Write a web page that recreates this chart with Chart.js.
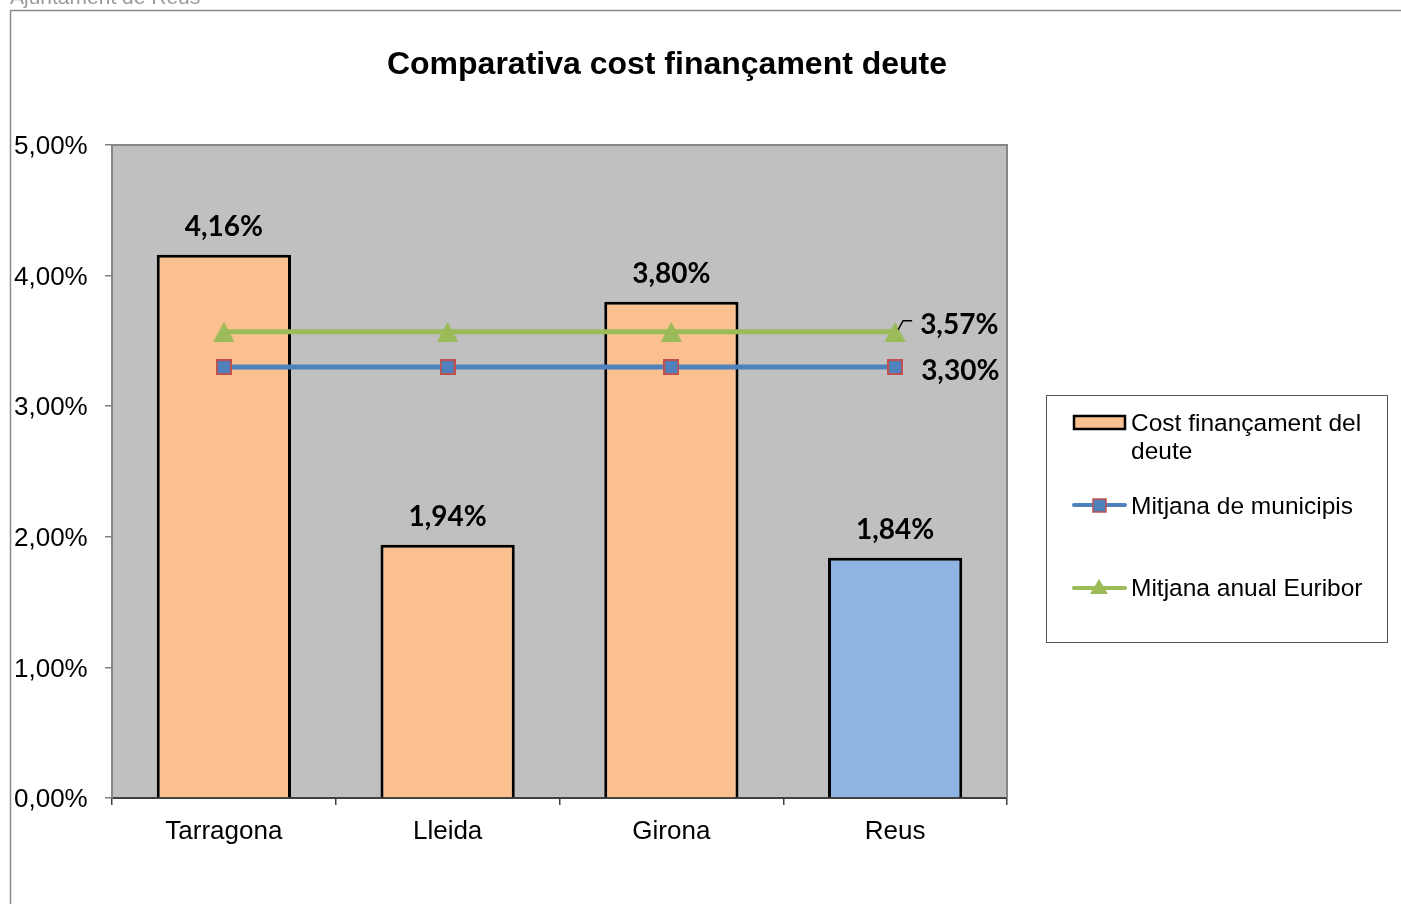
<!DOCTYPE html>
<html>
<head>
<meta charset="utf-8">
<script src="https://cdn.jsdelivr.net/npm/chart.js@4.4.1/dist/chart.umd.min.js"></script>
<style>
html,body{margin:0;padding:0;background:#fff;overflow:hidden;}
canvas{display:block;}
</style>
</head>
<body>
<canvas id="c" width="1401" height="904"></canvas>
<script>
const categories = ['Tarragona', 'Lleida', 'Girona', 'Reus'];
const costValues = [4.16, 1.94, 3.80, 1.84];
const municipisValues = [3.30, 3.30, 3.30, 3.30];
const euriborValues = [3.57, 3.57, 3.57, 3.57];
const yTicks = [0, 1, 2, 3, 4, 5];
const seriesNames = ['Cost finançament del deute', 'Mitjana de municipis', 'Mitjana anual Euribor'];
const titleText = 'Comparativa cost finançament deute';
const headerText = 'Ajuntament de Reus';

const SANS = '"Liberation Sans", Arial, sans-serif';
const LABEL = 'Lato, "Open Sans", sans-serif';
const fmt = v => v.toFixed(2).replace('.', ',') + '%';

const barColors = ['#FAC090', '#FAC090', '#FAC090', '#8DB4E2'];
const BLUE = '#4F81BD', RED = '#C0504D', GREEN = '#9BBB59';

function squareMarker() {
  const c = document.createElement('canvas');
  c.width = 16; c.height = 16;
  const x = c.getContext('2d');
  x.fillStyle = BLUE; x.fillRect(1, 1, 14, 14);
  x.strokeStyle = RED; x.lineWidth = 2; x.strokeRect(1, 1, 14, 14);
  return c;
}
function triMarker() {
  const c = document.createElement('canvas');
  c.width = 21; c.height = 20;
  const x = c.getContext('2d');
  x.fillStyle = GREEN;
  x.beginPath(); x.moveTo(10.5, 0); x.lineTo(21, 20); x.lineTo(0, 20); x.closePath(); x.fill();
  return c;
}
const sqImg = squareMarker();
const triImg = triMarker();

const decor = {
  id: 'decor',
  beforeDraw(chart) {
    const ctx = chart.ctx, a = chart.chartArea;
    ctx.save();
    ctx.fillStyle = '#fff';
    ctx.fillRect(0, 0, chart.width, chart.height);
    ctx.strokeStyle = '#8a8a8a';
    ctx.lineWidth = 1.5;
    ctx.strokeRect(10.5, 10.5, 1600, 1200);
    ctx.fillStyle = '#9a9a9a';
    ctx.font = '21px ' + SANS;
    ctx.textBaseline = 'alphabetic';
    ctx.textAlign = 'left';
    ctx.fillText(headerText, 10, 4);
    ctx.fillStyle = '#000';
    ctx.font = 'bold 32px ' + SANS;
    ctx.textAlign = 'center';
    ctx.textBaseline = 'middle';
    ctx.fillText(titleText, 667, 65);
    ctx.fillStyle = '#C0C0C0';
    ctx.fillRect(a.left, a.top, a.right - a.left, a.bottom - a.top);
    ctx.restore();
  },
  afterDatasetsDraw(chart) {
    const ctx = chart.ctx, a = chart.chartArea;
    ctx.save();
    ctx.strokeStyle = '#868686';
    ctx.lineWidth = 2;
    ctx.beginPath();
    ctx.moveTo(a.left, a.bottom);
    ctx.lineTo(a.left, a.top);
    ctx.lineTo(a.right, a.top);
    ctx.lineTo(a.right, a.bottom);
    ctx.stroke();
    ctx.fillStyle = '#000';
    ctx.font = 'bold 28px ' + LABEL;
    ctx.textAlign = 'center';
    ctx.textBaseline = 'middle';
    const m0 = chart.getDatasetMeta(0);
    m0.data.forEach((el, i) => {
      ctx.fillText(fmt(costValues[i]), el.x, el.y - 28);
    });
    const m1 = chart.getDatasetMeta(1);
    const m2 = chart.getDatasetMeta(2);
    const p1 = m1.data[m1.data.length - 1];
    const p2 = m2.data[m2.data.length - 1];
    ctx.textAlign = 'left';
    ctx.fillText(fmt(municipisValues[municipisValues.length - 1]), p1.x + 26, p1.y + 4);
    ctx.fillText(fmt(euriborValues[euriborValues.length - 1]), p2.x + 25, p2.y - 7);
    ctx.strokeStyle = '#000';
    ctx.lineWidth = 1.5;
    ctx.beginPath();
    ctx.moveTo(p2.x + 3, p2.y - 2);
    ctx.lineTo(p2.x + 8, p2.y - 11);
    ctx.lineTo(p2.x + 17, p2.y - 11);
    ctx.stroke();
    ctx.restore();
  },
  afterDraw(chart) {
    const ctx = chart.ctx;
    const ds = chart.data.datasets;
    ctx.save();
    ctx.fillStyle = '#fff';
    ctx.fillRect(1046.5, 395.5, 341, 247);
    ctx.strokeStyle = '#555';
    ctx.lineWidth = 1;
    ctx.strokeRect(1046.5, 395.5, 341, 247);
    ctx.font = '24.5px ' + SANS;
    ctx.textAlign = 'left';
    ctx.textBaseline = 'middle';
    ctx.fillStyle = '#FAC090';
    ctx.fillRect(1074, 416, 51, 13);
    ctx.strokeStyle = '#000';
    ctx.lineWidth = 2.5;
    ctx.strokeRect(1074, 416, 51, 13);
    ctx.fillStyle = '#000';
    ctx.fillText('Cost finançament del', 1131, 424);
    ctx.fillText('deute', 1131, 452);
    ctx.strokeStyle = ds[1].borderColor;
    ctx.lineWidth = 4;
    ctx.lineCap = 'round';
    ctx.beginPath(); ctx.moveTo(1074, 505); ctx.lineTo(1125, 505); ctx.stroke();
    ctx.fillStyle = BLUE;
    ctx.fillRect(1093, 499, 13, 13);
    ctx.strokeStyle = RED;
    ctx.lineWidth = 1.5;
    ctx.strokeRect(1093, 499, 13, 13);
    ctx.fillStyle = '#000';
    ctx.fillText(ds[1].label, 1131, 507);
    ctx.strokeStyle = ds[2].borderColor;
    ctx.lineWidth = 4;
    ctx.beginPath(); ctx.moveTo(1074, 588); ctx.lineTo(1125, 588); ctx.stroke();
    ctx.fillStyle = GREEN;
    ctx.beginPath();
    ctx.moveTo(1099, 579); ctx.lineTo(1108, 594); ctx.lineTo(1090, 594); ctx.closePath(); ctx.fill();
    ctx.fillStyle = '#000';
    ctx.fillText(ds[2].label, 1131, 589);
    ctx.restore();
  }
};

new Chart(document.getElementById('c'), {
  data: {
    labels: categories,
    datasets: [
      {
        type: 'bar', label: seriesNames[0], data: costValues,
        backgroundColor: barColors, borderColor: '#000', borderWidth: 3,
        categoryPercentage: 1, barPercentage: 0.6, order: 3
      },
      {
        type: 'line', label: seriesNames[1], data: municipisValues,
        borderColor: BLUE, borderWidth: 5,
        pointStyle: sqImg, pointRadius: 8, order: 2
      },
      {
        type: 'line', label: seriesNames[2], data: euriborValues,
        borderColor: GREEN, borderWidth: 5,
        pointStyle: triImg, pointRadius: 10, order: 1
      }
    ]
  },
  options: {
    responsive: false,
    animation: false,
    layout: { padding: { top: 145, left: 14, right: 394, bottom: 0 } },
    plugins: { legend: { display: false }, title: { display: false }, tooltip: { enabled: false } },
    scales: {
      x: {
        grid: { drawOnChartArea: false, drawTicks: true, tickLength: 7, color: '#404040', offset: true, lineWidth: 1.5 },
        border: { display: true, color: '#404040', width: 2 },
        ticks: { color: '#000', font: { family: SANS, size: 26 }, padding: 11 },
        afterFit(s) { s.height = 106; }
      },
      y: {
        min: 0, max: 5,
        afterBuildTicks(s) { s.ticks = yTicks.map(v => ({ value: v })); },
        ticks: { color: '#000', crossAlign: 'far', labelOffset: 2, font: { family: SANS, size: 26 }, callback: v => fmt(v) },
        grid: { drawOnChartArea: false, drawTicks: true, tickLength: 7, color: '#808080', lineWidth: 1.5 },
        border: { display: true, color: '#808080', width: 2 },
        afterFit(s) { s.width = 98; }
      }
    }
  },
  plugins: [decor]
});
</script>
</body>
</html>
